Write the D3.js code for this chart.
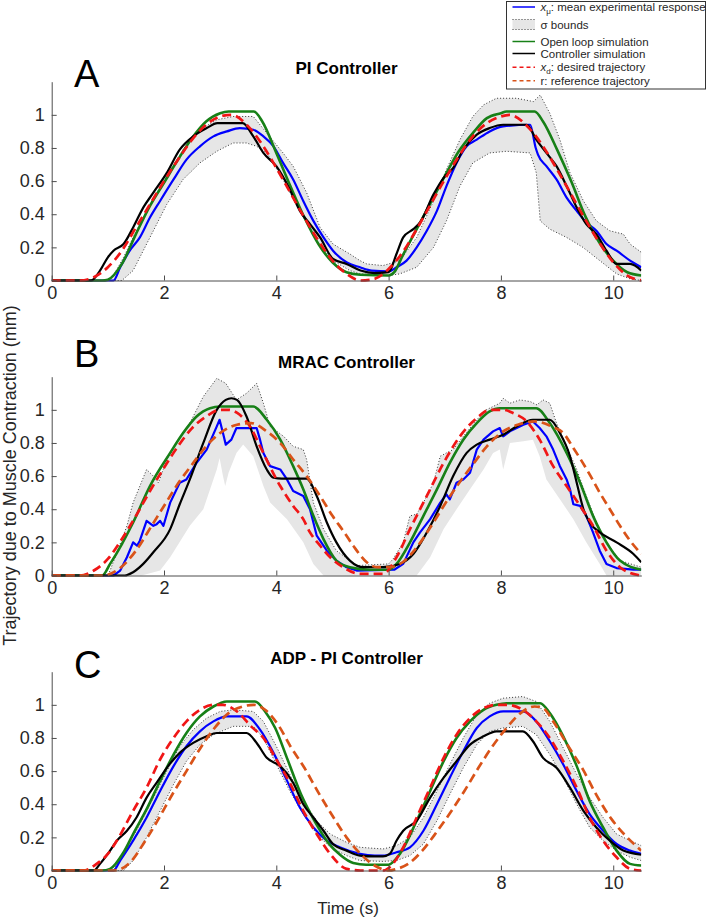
<!DOCTYPE html>
<html>
<head>
<meta charset="utf-8">
<script src="https://cdn.jsdelivr.net/npm/d3@7"></script>
<style>
  body { margin: 0; background: #fff; }
  svg { font-family: 'Liberation Sans', Arial, sans-serif; }
</style>
</head>
<body>
<svg id="chart" width="710" height="920"></svg>
<script>
// ---- data: [time (s), trajectory (mm)] ----
const timeTicks = [0, 2, 4, 6, 8, 10]
const valueTicks = [0, 0.2, 0.4, 0.6, 0.8, 1]
const panelLetters = ['A', 'B', 'C']
const panelTitles = ['PI Controller', 'MRAC Controller', 'ADP - PI Controller']

// A: PI controller
const piUpper = [[0,0],[1,0],[1.1,0.03],[1.28,0.14],[1.45,0.26],[1.75,0.46],[2.05,0.63],[2.34,0.79],[2.64,0.91],[2.94,0.97],[3.23,0.99],[3.59,0.99],[3.83,0.89],[4.12,0.77],[4.3,0.69],[4.54,0.53],[4.78,0.32],[5.01,0.22],[5.31,0.16],[5.49,0.12],[5.61,0.1],[5.9,0.09],[6.2,0.12],[6.5,0.26],[6.8,0.48],[7.03,0.67],[7.27,0.85],[7.5,0.99],[7.69,1.06],[7.92,1.1],[8.28,1.1],[8.58,1.08],[8.7,1.12],[8.87,1.01],[9.05,0.85],[9.23,0.65],[9.47,0.48],[9.7,0.36],[9.94,0.3],[10.18,0.28],[10.3,0.22],[10.5,0.17]]
const piLower = [[0,0],[1.25,0],[1.45,0.06],[1.75,0.26],[2.05,0.46],[2.34,0.61],[2.64,0.71],[2.94,0.78],[3.23,0.83],[3.47,0.83],[3.65,0.81],[3.83,0.77],[4.12,0.61],[4.42,0.42],[4.72,0.24],[5.01,0.12],[5.31,0.06],[5.49,0.04],[6,0.03],[6.2,0.04],[6.5,0.08],[6.8,0.2],[7.03,0.36],[7.27,0.57],[7.5,0.71],[7.8,0.77],[8.1,0.78],[8.52,0.77],[8.63,0.65],[8.7,0.36],[8.87,0.31],[9.17,0.26],[9.46,0.2],[9.76,0.12],[10.06,0.04],[10.3,0.01],[10.5,0]]
const piMean = [[0,0],[1.1,0],[1.22,0.08],[1.39,0.18],[1.57,0.26],[1.75,0.38],[1.93,0.48],[2.17,0.61],[2.4,0.73],[2.64,0.81],[2.88,0.87],[3.12,0.9],[3.35,0.92],[3.59,0.91],[3.77,0.87],[3.95,0.81],[4.12,0.71],[4.3,0.61],[4.48,0.48],[4.66,0.36],[4.84,0.26],[5.01,0.18],[5.25,0.11],[5.49,0.08],[5.7,0.06],[6,0.055],[6.14,0.08],[6.32,0.12],[6.5,0.2],[6.68,0.3],[6.86,0.42],[7.03,0.57],[7.21,0.71],[7.39,0.81],[7.57,0.85],[7.8,0.9],[8.04,0.93],[8.52,0.94],[8.62,0.8],[8.66,0.76],[8.81,0.69],[8.99,0.61],[9.17,0.5],[9.35,0.42],[9.52,0.35],[9.7,0.3],[9.88,0.22],[10.06,0.18],[10.3,0.12],[10.5,0.08]]
const piOpen = [[0,0],[0.9,0],[1,0.005],[1.25,0.1],[1.5,0.28],[1.75,0.45],[2,0.59],[2.25,0.73],[2.5,0.86],[2.75,0.96],[3,1.01],[3.15,1.02],[3.6,1.02],[3.75,0.96],[4,0.77],[4.25,0.57],[4.5,0.38],[4.75,0.22],[5,0.11],[5.25,0.05],[5.5,0.035],[6,0.03],[6.1,0.05],[6.25,0.15],[6.5,0.31],[6.75,0.47],[7,0.63],[7.25,0.78],[7.5,0.89],[7.75,0.98],[8,1.01],[8.1,1.02],[8.6,1.02],[8.75,0.96],[9,0.79],[9.25,0.6],[9.5,0.39],[9.75,0.23],[10,0.12],[10.25,0.05],[10.5,0.03]]
const piCtrl = [[0,0],[0.7,0],[0.86,0.06],[1,0.14],[1.1,0.18],[1.28,0.22],[1.45,0.32],[1.63,0.44],[1.81,0.53],[2.05,0.65],[2.28,0.79],[2.52,0.87],[2.76,0.92],[2.95,0.95],[3.4,0.95],[3.59,0.87],[3.77,0.77],[4,0.69],[4.24,0.55],[4.42,0.42],[4.6,0.34],[4.78,0.26],[5.01,0.13],[5.25,0.1],[5.5,0.06],[5.75,0.045],[6,0.05],[6.14,0.16],[6.26,0.26],[6.44,0.31],[6.56,0.35],[6.8,0.52],[6.98,0.62],[7.15,0.68],[7.33,0.79],[7.57,0.88],[7.8,0.92],[8.04,0.94],[8.46,0.94],[8.63,0.85],[8.81,0.77],[8.99,0.69],[9.17,0.57],[9.35,0.44],[9.52,0.34],[9.7,0.28],[9.88,0.18],[10.06,0.1],[10.3,0.1],[10.5,0.06]]
const piDesired = [[0,0],[0.5,0],[0.75,0.02],[1,0.08],[1.25,0.18],[1.5,0.32],[1.75,0.46],[2,0.6],[2.25,0.73],[2.5,0.85],[2.75,0.94],[3,0.99],[3.2,1],[3.5,0.93],[3.75,0.82],[4,0.68],[4.25,0.53],[4.5,0.38],[4.75,0.24],[5,0.12],[5.25,0.04],[5.5,0],[5.75,0.01],[6,0.07],[6.25,0.17],[6.5,0.31],[6.75,0.46],[7,0.61],[7.25,0.75],[7.5,0.87],[7.75,0.95],[8,0.99],[8.15,1],[8.5,0.92],[8.75,0.81],[9,0.67],[9.25,0.52],[9.5,0.37],[9.75,0.23],[10,0.11],[10.25,0.03],[10.5,0]]

// B: MRAC controller
const mracUpper = [[0,0],[1,0],[1.04,0.03],[1.34,0.3],[1.45,0.44],[1.57,0.54],[1.69,0.64],[1.81,0.6],[1.9,0.56],[2.05,0.7],[2.23,0.8],[2.46,0.92],[2.7,1.08],[2.94,1.19],[3.1,1.16],[3.29,1.06],[3.47,1.1],[3.65,1.16],[3.77,1.04],[3.89,0.9],[4.13,0.84],[4.3,0.78],[4.48,0.76],[4.54,0.7],[4.66,0.44],[4.84,0.28],[5.07,0.15],[5.43,0.06],[6,0.07],[6.08,0.1],[6.26,0.2],[6.38,0.36],[6.5,0.37],[6.62,0.44],[6.8,0.56],[6.92,0.72],[7.03,0.74],[7.15,0.76],[7.33,0.84],[7.57,0.94],[7.74,1],[7.92,1.03],[7.98,1.04],[8.04,1.07],[8.16,1.04],[8.34,1.06],[8.52,1.05],[8.64,1.03],[8.75,1.06],[8.87,1.04],[8.99,0.92],[9.17,0.78],[9.35,0.64],[9.52,0.48],[9.7,0.32],[9.88,0.2],[10.12,0.09],[10.5,0.05]]
const mracLower = [[0,0],[1.6,0],[1.93,0.03],[2.11,0.11],[2.46,0.3],[2.7,0.4],[2.94,0.64],[2.99,0.71],[3.05,0.6],[3.09,0.54],[3.15,0.62],[3.29,0.74],[3.41,0.79],[3.59,0.72],[3.77,0.54],[3.89,0.44],[4.19,0.34],[4.48,0.2],[4.66,0.07],[4.84,0],[6.5,0],[6.74,0.11],[6.98,0.28],[7.21,0.4],[7.45,0.52],[7.69,0.64],[7.86,0.74],[7.98,0.76],[8.04,0.64],[8.16,0.8],[8.4,0.81],[8.57,0.82],[8.69,0.72],[8.81,0.58],[9.05,0.46],[9.29,0.34],[9.52,0.2],[9.76,0.07],[9.88,0],[10.5,0]]
const mracMean = [[0,0],[1.1,0],[1.22,0.03],[1.34,0.11],[1.45,0.2],[1.52,0.18],[1.57,0.21],[1.69,0.33],[1.81,0.3],[1.87,0.31],[1.93,0.33],[1.99,0.3],[2.11,0.44],[2.28,0.56],[2.4,0.58],[2.58,0.68],[2.76,0.76],[2.94,0.9],[2.99,0.94],[3.05,0.86],[3.1,0.79],[3.2,0.82],[3.29,0.89],[3.65,0.89],[3.71,0.82],[3.77,0.74],[3.89,0.66],[4.07,0.64],[4.19,0.58],[4.3,0.51],[4.48,0.48],[4.6,0.4],[4.72,0.24],[4.9,0.15],[5.07,0.09],[5.25,0.05],[5.43,0.03],[6.1,0.035],[6.26,0.07],[6.44,0.2],[6.56,0.26],[6.74,0.34],[6.92,0.44],[7.03,0.49],[7.09,0.46],[7.21,0.56],[7.33,0.58],[7.45,0.62],[7.57,0.76],[7.69,0.82],[7.86,0.87],[7.98,0.89],[8.04,0.84],[8.16,0.87],[8.4,0.91],[8.57,0.93],[8.69,0.89],[8.81,0.84],[8.93,0.76],[9.05,0.66],[9.17,0.58],[9.23,0.52],[9.29,0.43],[9.41,0.42],[9.52,0.36],[9.64,0.26],[9.76,0.15],[9.88,0.07],[10.06,0.045],[10.36,0.035],[10.5,0.035]]
const mracOpen = [[0,0],[0.9,0],[1.04,0.07],[1.25,0.19],[1.45,0.32],[1.75,0.54],[2.11,0.74],[2.34,0.86],[2.58,0.96],[2.82,1.01],[3,1.02],[3.59,1.02],[3.83,0.94],[4.07,0.82],[4.3,0.66],[4.48,0.52],[4.66,0.36],[4.84,0.22],[5.07,0.09],[5.31,0.05],[5.67,0.035],[6,0.035],[6.14,0.07],[6.38,0.2],[6.62,0.36],[6.86,0.52],[7.09,0.68],[7.33,0.82],[7.57,0.92],[7.8,0.99],[7.98,1.01],[8.63,1.01],[8.87,0.92],[9.17,0.74],[9.41,0.56],[9.64,0.36],[9.88,0.2],[10.12,0.09],[10.5,0.035]]
const mracCtrl = [[0,0],[1.3,0],[1.45,0.02],[1.63,0.07],[1.81,0.14],[2.11,0.28],[2.28,0.43],[2.46,0.58],[2.7,0.8],[2.94,1],[3.1,1.06],[3.2,1.07],[3.3,1.06],[3.47,0.96],[3.65,0.78],[3.83,0.64],[3.95,0.59],[4.1,0.585],[4.54,0.585],[4.72,0.48],[4.9,0.32],[5.07,0.2],[5.31,0.09],[5.55,0.05],[5.9,0.05],[6.2,0.07],[6.44,0.13],[6.68,0.26],[6.92,0.42],[7.15,0.6],[7.39,0.74],[7.57,0.79],[7.8,0.82],[8.04,0.85],[8.28,0.9],[8.57,0.94],[8.87,0.94],[9.05,0.86],[9.23,0.72],[9.35,0.56],[9.47,0.4],[9.58,0.32],[9.76,0.26],[10.06,0.2],[10.36,0.13],[10.5,0.08]]
const mracDesired = [[0,0],[0.5,0],[0.75,0.03],[1,0.1],[1.25,0.22],[1.5,0.36],[1.75,0.51],[2,0.65],[2.25,0.78],[2.5,0.89],[2.75,0.96],[3,1],[3.15,1],[3.35,0.97],[3.55,0.89],[3.71,0.78],[4.07,0.54],[4.3,0.42],[4.48,0.34],[4.6,0.26],[4.78,0.18],[4.96,0.11],[5.19,0.05],[5.49,0.01],[5.9,0.01],[6.14,0.11],[6.38,0.28],[6.68,0.48],[6.98,0.68],[7.27,0.84],[7.57,0.95],[7.8,1],[8.04,1],[8.22,0.98],[8.46,0.93],[8.69,0.82],[8.93,0.66],[9.17,0.54],[9.41,0.42],[9.64,0.3],[9.88,0.15],[10.12,0.05],[10.48,0]]
const mracRef = [[0,0],[0.9,0],[1.2,0.04],[1.5,0.15],[1.78,0.3],[2,0.42],[2.28,0.57],[2.5,0.67],[2.75,0.78],[3,0.86],[3.3,0.91],[3.55,0.92],[3.83,0.87],[4.07,0.8],[4.3,0.7],[4.54,0.6],[4.78,0.48],[5,0.36],[5.19,0.27],[5.37,0.18],[5.61,0.08],[5.8,0.05],[6,0.05],[6.25,0.08],[6.5,0.17],[6.78,0.31],[7,0.43],[7.28,0.57],[7.5,0.67],[7.75,0.78],[8,0.86],[8.3,0.91],[8.6,0.93],[8.9,0.9],[9.11,0.86],[9.29,0.77],[9.58,0.61],[9.76,0.5],[9.94,0.4],[10.12,0.3],[10.3,0.21],[10.5,0.13]]

// C: ADP - PI controller
const adpUpper = [[0,0],[1.1,0],[1.34,0.14],[1.57,0.28],[1.81,0.44],[2.05,0.6],[2.28,0.75],[2.52,0.85],[2.76,0.92],[3,0.96],[3.23,0.97],[3.59,0.96],[3.77,0.9],[4,0.75],[4.24,0.58],[4.48,0.42],[4.72,0.3],[4.96,0.22],[5.25,0.17],[5.49,0.14],[5.9,0.13],[6.14,0.15],[6.38,0.2],[6.62,0.32],[6.86,0.48],[7.09,0.64],[7.33,0.8],[7.57,0.94],[7.8,1.01],[8.04,1.04],[8.39,1.05],[8.63,1.02],[8.87,0.9],[9.11,0.74],[9.35,0.58],[9.58,0.44],[9.82,0.32],[10.06,0.22],[10.3,0.18],[10.5,0.15]]
const adpLower = [[0,0],[1.28,0],[1.45,0.06],[1.69,0.2],[1.93,0.36],[2.17,0.52],[2.4,0.66],[2.64,0.76],[2.88,0.82],[3.23,0.87],[3.59,0.87],[3.77,0.8],[4,0.64],[4.24,0.48],[4.48,0.34],[4.72,0.22],[4.96,0.14],[5.25,0.09],[5.49,0.06],[5.9,0.055],[6.14,0.06],[6.38,0.09],[6.62,0.16],[6.86,0.3],[7.09,0.46],[7.33,0.62],[7.57,0.76],[7.8,0.84],[8.04,0.86],[8.39,0.87],[8.63,0.82],[8.87,0.7],[9.11,0.56],[9.35,0.4],[9.58,0.26],[9.82,0.18],[10.06,0.12],[10.3,0.08],[10.5,0.06]]
const adpMean = [[0,0],[1.1,0],[1.22,0.06],[1.45,0.18],[1.69,0.32],[1.93,0.48],[2.17,0.63],[2.4,0.75],[2.64,0.84],[2.88,0.9],[3.12,0.93],[3.47,0.93],[3.71,0.85],[3.95,0.71],[4.18,0.55],[4.42,0.38],[4.66,0.26],[4.9,0.18],[5.13,0.14],[5.49,0.1],[5.75,0.09],[5.9,0.09],[6.14,0.11],[6.38,0.14],[6.62,0.24],[6.86,0.4],[7.09,0.56],[7.33,0.72],[7.57,0.86],[7.8,0.93],[8.04,0.96],[8.39,0.96],[8.63,0.9],[8.87,0.78],[9.11,0.64],[9.35,0.48],[9.58,0.34],[9.82,0.24],[10.06,0.16],[10.3,0.12],[10.5,0.1]]
const adpOpen = [[0,0],[0.9,0],[1.04,0.01],[1.28,0.11],[1.45,0.22],[1.69,0.37],[1.93,0.54],[2.17,0.7],[2.4,0.83],[2.64,0.93],[2.88,0.99],[3.12,1.02],[3.62,1.02],[3.8,0.96],[3.98,0.86],[4.2,0.67],[4.44,0.46],[4.68,0.3],[4.92,0.17],[5.15,0.09],[5.37,0.045],[5.6,0.035],[6,0.035],[6.2,0.1],[6.5,0.3],[6.74,0.48],[6.98,0.66],[7.21,0.8],[7.45,0.9],[7.69,0.97],[7.92,1],[8.1,1.01],[8.7,1.01],[8.87,0.95],[9.11,0.81],[9.35,0.63],[9.58,0.42],[9.82,0.26],[10.06,0.12],[10.3,0.04],[10.5,0.03]]
const adpCtrl = [[0,0],[0.75,0],[0.86,0.04],[1.04,0.12],[1.16,0.18],[1.34,0.24],[1.51,0.32],[1.69,0.44],[1.87,0.53],[2.05,0.62],[2.28,0.71],[2.52,0.77],[2.76,0.81],[2.94,0.83],[3.47,0.83],[3.65,0.77],[3.83,0.68],[4.07,0.63],[4.3,0.53],[4.48,0.4],[4.66,0.32],[4.84,0.24],[5.01,0.16],[5.25,0.12],[5.49,0.09],[5.75,0.085],[5.9,0.085],[6.02,0.1],[6.14,0.18],[6.26,0.24],[6.5,0.3],[6.74,0.44],[6.98,0.56],[7.21,0.66],[7.45,0.76],[7.69,0.81],[7.92,0.84],[8.39,0.84],[8.57,0.78],[8.75,0.68],[8.99,0.62],[9.23,0.5],[9.47,0.36],[9.7,0.26],[9.94,0.18],[10.18,0.12],[10.5,0.095]]
const adpDesired = [[0,0],[0.56,0],[0.8,0.04],[1,0.1],[1.16,0.18],[1.45,0.36],[1.69,0.5],[1.93,0.67],[2.17,0.8],[2.4,0.9],[2.64,0.97],[2.88,1],[3.05,1],[3.3,0.96],[3.55,0.87],[3.77,0.8],[4,0.67],[4.24,0.53],[4.48,0.36],[4.72,0.22],[4.96,0.1],[5.25,0.01],[5.5,0],[5.9,0],[6.02,0.02],[6.26,0.14],[6.5,0.32],[6.74,0.5],[6.98,0.68],[7.21,0.82],[7.45,0.92],[7.69,0.98],[7.92,1],[8.1,1],[8.39,0.97],[8.63,0.9],[8.87,0.8],[9.11,0.66],[9.35,0.5],[9.58,0.32],[9.82,0.18],[10.06,0.08],[10.3,0.01],[10.5,0]]
const adpRef = [[0,0],[1.1,0],[1.4,0.05],[1.65,0.17],[1.9,0.31],[2.15,0.46],[2.4,0.6],[2.65,0.74],[2.9,0.86],[3.15,0.95],[3.4,0.99],[3.6,1],[3.8,0.97],[4.05,0.87],[4.25,0.75],[4.5,0.62],[4.75,0.47],[5,0.33],[5.25,0.2],[5.5,0.1],[5.75,0.03],[6,0],[6.15,0.01],[6.35,0.04],[6.6,0.12],[6.85,0.23],[7.1,0.35],[7.35,0.48],[7.6,0.62],[7.85,0.75],[8.1,0.86],[8.35,0.95],[8.6,0.99],[8.75,0.98],[8.95,0.89],[9.2,0.75],[9.46,0.61],[9.71,0.45],[9.97,0.31],[10.22,0.21],[10.5,0.12]]

const panelData = [
  { upper: piUpper, lower: piLower, mean: piMean, open: piOpen, ctrl: piCtrl, desired: piDesired, ref: null, lowerEdge: true, noisy: false },
  { upper: mracUpper, lower: mracLower, mean: mracMean, open: mracOpen, ctrl: mracCtrl, desired: mracDesired, ref: mracRef, lowerEdge: false, noisy: true },
  { upper: adpUpper, lower: adpLower, mean: adpMean, open: adpOpen, ctrl: adpCtrl, desired: adpDesired, ref: adpRef, lowerEdge: true, noisy: false }
]

// ---- layout ----
const plotLeft = 51.7
const plotRight = 641.3
const panelTop = [81.7, 376.7, 671.7]
const panelH = 198.8
const letterY = [86.7, 366.7, 678]
const titleY = [74.3, 368, 664]
const axisColor = '#4d4d4d'
const textColor = '#262626'

const colors = { mean: '#0000ff', open: '#178017', ctrl: '#000000', desired: '#f01616', ref: '#d95319', band: '#e6e6e6' }

const svg = d3.select('#chart')
const x = d3.scaleLinear().domain([0, 10.5]).range([plotLeft, plotRight])

panelData.forEach((p, i) => {
  const top = panelTop[i]
  const y = d3.scaleLinear().domain([0, 1.2]).range([top + panelH, top])
  const g = svg.append('g')

  const clipId = 'clip' + i
  svg.append('clipPath').attr('id', clipId)
    .append('rect')
    .attr('x', plotLeft).attr('y', top - 2)
    .attr('width', plotRight - plotLeft).attr('height', panelH + 3.5)

  const plot = g.append('g').attr('clip-path', `url(#${clipId})`)
  const straight = d3.line().x(d => x(d[0])).y(d => y(d[1]))
  const smooth = d3.line().x(d => x(d[0])).y(d => y(d[1])).curve(d3.curveMonotoneX)

  // sigma band
  plot.append('path')
    .attr('d', straight(p.upper.concat(p.lower.slice().reverse())) + 'Z')
    .attr('fill', colors.band)
  const edges = p.lowerEdge ? [p.upper, p.lower] : [p.upper]
  edges.forEach(e => {
    plot.append('path')
      .attr('d', straight(e))
      .attr('fill', 'none')
      .attr('stroke', '#222')
      .attr('stroke-width', 0.9)
      .attr('stroke-dasharray', '1,2')
  })

  const drawLine = (data, color, w, dash, gen) => {
    if (!data) return
    plot.append('path')
      .attr('d', gen(data))
      .attr('fill', 'none')
      .attr('stroke', color)
      .attr('stroke-width', w)
      .attr('stroke-dasharray', dash)
      .attr('stroke-linejoin', 'round')
  }
  drawLine(p.mean, colors.mean, 2.2, null, p.noisy ? straight : smooth)
  drawLine(p.open, colors.open, 2.6, null, smooth)
  drawLine(p.ctrl, colors.ctrl, 2.2, null, smooth)
  drawLine(p.desired, colors.desired, 2.7, '9,5', smooth)
  drawLine(p.ref, colors.ref, 2.7, '9,5', smooth)

  // axes, ticks pointing inward like the original
  const xAxis = g.append('g')
    .attr('transform', `translate(0,${y(0)})`)
    .call(d3.axisBottom(x).tickValues(timeTicks).tickSize(-5).tickSizeOuter(0).tickPadding(6))
  const yAxis = g.append('g')
    .attr('transform', `translate(${plotLeft},0)`)
    .call(d3.axisLeft(y).tickValues(valueTicks).tickSize(-5).tickSizeOuter(0).tickPadding(7).tickFormat(d => d))
  ;[xAxis, yAxis].forEach(a => {
    a.attr('font-family', null).attr('font-size', null)
    a.select('.domain').attr('stroke', axisColor)
    a.selectAll('.tick line').attr('stroke', axisColor)
    a.selectAll('.tick text').attr('fill', textColor).style('font-size', '18px')
  })

  g.append('text')
    .attr('x', 74).attr('y', letterY[i])
    .style('font-size', '38px')
    .attr('fill', '#000')
    .text(panelLetters[i])

  g.append('text')
    .attr('x', (plotLeft + plotRight) / 2).attr('y', titleY[i])
    .attr('text-anchor', 'middle')
    .style('font-size', '17px').style('font-weight', 'bold')
    .attr('fill', '#000')
    .text(panelTitles[i])
})

svg.append('text')
  .attr('transform', 'translate(15.5,475.5) rotate(-90)')
  .attr('text-anchor', 'middle')
  .style('font-size', '18px')
  .attr('fill', textColor)
  .text('Trajectory due to Muscle Contraction (mm)')

svg.append('text')
  .attr('x', 348).attr('y', 914)
  .attr('text-anchor', 'middle')
  .style('font-size', '17px')
  .attr('fill', textColor)
  .text('Time (s)')

// ---- legend ----
const legend = svg.append('g')
legend.append('rect')
  .attr('x', 506.5).attr('y', 1.5).attr('width', 199).attr('height', 87.5)
  .attr('fill', '#fff').attr('stroke', '#333').attr('stroke-width', 1)

const legendRows = [
  { y: 7, kind: 'line', color: colors.mean, dash: null },
  { y: 24.5, kind: 'band' },
  { y: 41.5, kind: 'line', color: colors.open, dash: null },
  { y: 53.5, kind: 'line', color: colors.ctrl, dash: null },
  { y: 67.3, kind: 'line', color: colors.desired, dash: '4,3' },
  { y: 80.7, kind: 'line', color: colors.ref, dash: '4,3' }
]
const legendLabels = [
  ['x', 'μ', ': mean experimental response'],
  [null, null, 'σ bounds'],
  [null, null, 'Open loop simulation'],
  [null, null, 'Controller simulation'],
  ['x', 'd', ': desired trajectory'],
  [null, null, 'r: reference trajectory']
]

legendRows.forEach((r, i) => {
  if (r.kind === 'band') {
    legend.append('rect')
      .attr('x', 512.5).attr('y', r.y - 5).attr('width', 22.5).attr('height', 10)
      .attr('fill', colors.band)
    ;[r.y - 5, r.y + 5].forEach(yy => {
      legend.append('line')
        .attr('x1', 512.5).attr('x2', 535).attr('y1', yy).attr('y2', yy)
        .attr('stroke', '#222').attr('stroke-width', 0.9).attr('stroke-dasharray', '1,2')
    })
  } else {
    legend.append('line')
      .attr('x1', 512.5).attr('x2', 535).attr('y1', r.y).attr('y2', r.y)
      .attr('stroke', r.color).attr('stroke-width', 1.5)
      .attr('stroke-dasharray', r.dash)
  }
  const [v, sub, rest] = legendLabels[i]
  const t = legend.append('text')
    .attr('x', 540.5).attr('y', r.y + 4)
    .style('font-size', '11.5px')
    .attr('fill', textColor)
  if (v) {
    t.append('tspan').style('font-style', 'italic').text(v)
    t.append('tspan').attr('dy', 3).style('font-size', '8px').text(sub)
    t.append('tspan').attr('dy', -3).text(rest)
  } else {
    t.text(rest)
  }
})
</script>
</body>
</html>
